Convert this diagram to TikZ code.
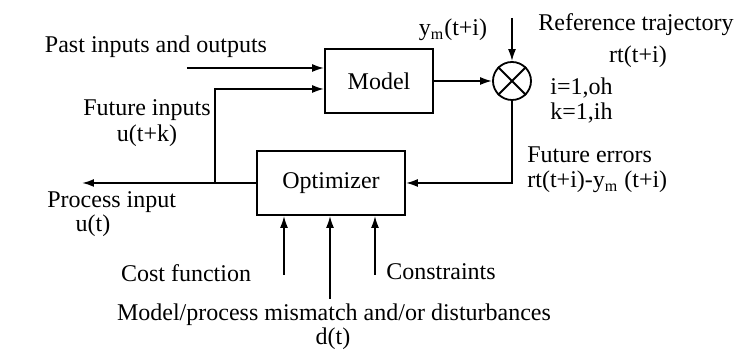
\documentclass[tikz,border=0pt]{standalone}
\usepackage{fontspec}
\setmainfont{Liberation Serif}
\usepackage{tikz}
\usetikzlibrary{positioning,arrows.meta}

\begin{document}
\begin{tikzpicture}[x=0.5pt,y=-0.5pt,font=\fontsize{12}{14}\selectfont,
    block/.style={draw,line width=0.9pt,minimum width=#1,minimum height=32pt},
    arr/.style={line width=0.9pt,-{Latex[length=6pt,width=4pt]}},
    lbl/.style={inner sep=0pt}]
    \useasboundingbox (0,0) rectangle (736,356);
    \node[block=54pt] (model) at (379,81) {Model};
    \node[block=74pt] (opt) at (331,183) {Optimizer};
    \node[draw,circle,line width=0.9pt,minimum size=19pt,inner sep=0pt] (sum) at (512,81) {};
    \draw[line width=0.9pt] (sum.45) -- (sum.225) (sum.135) -- (sum.315);
    \coordinate (pastin) at (187,68);
    \coordinate (fut) at (215,183);
    \coordinate (uout) at (82,183);
    \coordinate (refin) at (512,18);
    \coordinate (costin) at (284,275);
    \coordinate (distin) at (330,299);
    \coordinate (consin) at (375,275);
    \draw[arr] (pastin) -- (pastin -| model.west);
    \draw[arr] (fut) |- ([yshift=-4pt]model.west);
    \draw[arr] (opt.west) -- (uout);
    \draw[arr] (model.east) -- (sum.west);
    \draw[arr] (refin) -- (sum.north);
    \draw[arr] (sum.south) |- (opt.east);
    \draw[arr] (costin) -- (costin |- opt.south);
    \draw[arr] (distin) -- (distin |- opt.south);
    \draw[arr] (consin) -- (consin |- opt.south);
    \node[lbl] (pastlbl) at (156,47) {Past inputs and outputs};
    \node[lbl] (ymlbl) at (453,30) {y\textsubscript{m}(t+i)};
    \node[lbl] (reflbl) at (636,25) {Reference trajectory};
    \node[lbl] (rtlbl) at (638,57) {rt(t+i)};
    \node[lbl,anchor=west] (ilbl) at (550,88) {i=1,oh};
    \node[lbl,anchor=west] (klbl) at (550,113) {k=1,ih};
    \node[lbl,anchor=west] (errlbl) at (527,155) {Future errors};
    \node[lbl,anchor=west] (errexpr) at (527,182) {rt(t+i)-y\textsubscript{m} (t+i)};
    \node[lbl] (futlbl) at (147,110) {Future inputs};
    \node[lbl] (ulbl) at (147,136) {u(t+k)};
    \node[lbl,anchor=west] (proclbl) at (47,202) {Process input};
    \node[lbl] (utlbl) at (93,226) {u(t)};
    \node[lbl] (costlbl) at (186,273) {Cost function};
    \node[lbl,anchor=west] (conslbl) at (386,272) {Constraints};
    \node[lbl] (distlbl) at (334,315) {Model/process mismatch and/or disturbances};
    \node[lbl] (dlbl) at (333,339) {d(t)};
  \end{tikzpicture}
\end{document}
